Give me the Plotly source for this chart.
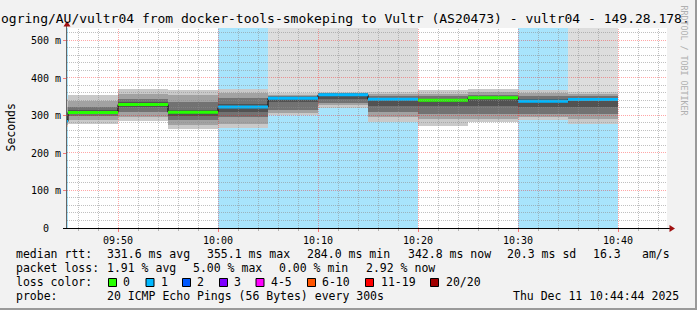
import math
import pandas as pd
import plotly.graph_objects as go

# ---------------- data ----------------
DAY = "2025-12-11 "
interval_start = ["09:40", "09:45", "09:50", "09:55", "10:00", "10:05",
                  "10:10", "10:15", "10:20", "10:25", "10:30", "10:35"]
median_ms = [284.0, 308.0, 329.0, 308.5, 322.6, 345.7, 355.1, 343.0, 340.4, 347.6, 337.8, 342.8]
lost_pings = [1, 0, 0, 0, 1, 1, 1, 1, 0, 0, 1, 1]
smoke_min = [270, 277, 285, 265, 266, 302, 321, 283, 271, 283, 287, 278]
smoke_p10 = [275, 287, 296, 274, 277, 307, 327, 295, 290, 292, 297, 290]
smoke_p25 = [279, 298, 309, 287, 295, 316, 333, 310, 305, 305, 305, 303]
smoke_p40 = [282, 304, 322, 300, 310, 335, 345, 325, 325, 325, 322, 322]
smoke_p60 = [290, 314, 335, 316, 332, 349, 357, 347, 345, 350, 344, 347]
smoke_p75 = [300, 324, 345, 335, 346, 353, 359, 352, 352, 355, 352, 353]
smoke_p90 = [320, 340, 358, 355, 359, 356, 361, 357, 358, 362, 360, 358]
smoke_max = [345, 354, 370, 368, 370, 360, 364, 362, 367, 370, 367, 364]
offscale_top = [0, 0, 0, 0, 0, 1, 1, 1, 0, 0, 0, 1]

y_tick_vals = [0, 100, 200, 300, 400, 500]
y_tick_text = ["0\u00a0\u00a0", "100 m", "200 m", "300 m", "400 m", "500 m"]

loss_legend = ["0", "1", "2", "3", "4-5", "6-10", "11-19", "20/20"]
loss_colors = ["#26ff00", "#00b8ff", "#0059ff", "#7e00ff", "#ff00fe", "#ff5500", "#ff0000", "#a10000"]

legend_rows = [
    [("median rtt:", 16), ("331.6 ms avg", 107.3), ("355.1 ms max", 207.3),
     ("284.0 ms min", 307.2), ("342.8 ms now", 407.7), ("20.3 ms sd", 506.7),
     ("16.3", 593.3), ("am/s", 642.3)],
    [("packet loss:", 16), ("1.91 % avg", 107.3), ("5.00 % max", 193.0),
     ("0.00 % min", 279.0), ("2.92 % now", 365.7)],
    [("loss color:", 16)],
    [("probe:", 16), ("20 ICMP Echo Pings (56 Bytes) every 300s", 107.3),
     ("Thu Dec 11 10:44:44 2025", 513.3)],
]
legend_row_y = [254.3, 268.3, 282.3, 296.0]
loss_box_x = [108.5, 146.0, 182.5, 219.5, 256.0, 307.5, 365.5, 430.5]
loss_label_x = [123.3, 160.7, 197.3, 234.0, 270.7, 322.0, 380.7, 445.7]

title_text = ("ogring/AU/vultr04 from docker-tools-smokeping to Vultr (AS20473) "
              "- vultr04 - 149.28.178.")

# ---------------- layout constants ----------------
W, H = 697, 310
L, R, T, B = 67, 30, 28, 82
PW, PH = W - L - R, H - T - B
Y_TOP = 533.3333
X0 = pd.Timestamp(DAY + "09:44:54")
X1 = pd.Timestamp(DAY + "10:44:54")
FONT = "DejaVu Sans Mono"
BLUE_BG = "rgb(168,228,252)"
GREY_TOP = "#dddddd"

starts = pd.to_datetime([DAY + s for s in interval_start])
ends = starts + pd.Timedelta(minutes=5)
centers = starts + pd.Timedelta(seconds=150)
WIDTH_MS = 300000


def px(x):
    return (x - L) / PW


def py(y):
    return (T + PH - y) / PH


fig = go.Figure()


def add_band(lo, hi, color):
    fig.add_trace(go.Bar(
        x=centers, base=lo,
        y=[h - l if (h is not None and l is not None) else None for l, h in zip(lo, hi)],
        width=[WIDTH_MS] * len(centers), marker=dict(color=color, line=dict(width=0)),
        hoverinfo="skip", showlegend=False))


# loss background
add_band([0 if l > 0 else None for l in lost_pings],
         [Y_TOP if l > 0 else None for l in lost_pings], BLUE_BG)
# off-scale (grey) top
add_band([m if f else None for m, f in zip(smoke_max, offscale_top)],
         [Y_TOP if f else None for f in offscale_top], GREY_TOP)
# smoke
add_band(smoke_min, smoke_max, "#c9c9c9")
add_band(smoke_p10, smoke_p90, "#a2a2a2")
add_band(smoke_p25, smoke_p75, "#727272")
add_band(smoke_p40, smoke_p60, "#525252")

# black median step line
fig.add_trace(go.Scatter(
    x=list(starts) + [ends[-1]], y=median_ms + [median_ms[-1]],
    mode="lines", line=dict(color="black", width=1, shape="hv"),
    hoverinfo="skip", showlegend=False))

# coloured median segments
for k in sorted(set(lost_pings)):
    xs, ys = [], []
    for s, e, m, l in zip(starts, ends, median_ms, lost_pings):
        if l == k:
            xs += [s, e, None]
            ys += [m, m, None]
    fig.add_trace(go.Scatter(x=xs, y=ys, mode="lines",
                             line=dict(color=loss_colors[k], width=3),
                             hoverinfo="skip", showlegend=False))

shapes = []
# grid (drawn above data, as in rrdtool)
t = pd.Timestamp(DAY + "09:46")
while t < X1:
    major = (t.minute % 10 == 0)
    tt = t + pd.Timedelta(seconds=3)  # half-pixel snap
    shapes.append(dict(type="line", xref="x", yref="paper", x0=tt, x1=tt, y0=0, y1=1,
                       layer="above",
                       line=dict(color="rgba(255,0,0,0.35)" if major else "rgba(140,140,140,0.55)",
                                 width=1, dash="1px,1px")))
    t += pd.Timedelta(minutes=2)
for v in range(20, 530, 20):
    p = T + PH - v * PH / Y_TOP
    p2 = math.floor(p) + 0.5
    v2 = (T + PH - p2) * Y_TOP / PH
    major = (v % 100 == 0)
    shapes.append(dict(type="line", xref="paper", yref="y", x0=0, x1=1, y0=v2, y1=v2,
                       layer="above",
                       line=dict(color="rgba(255,0,0,0.35)" if major else "rgba(140,140,140,0.55)",
                                 width=1, dash="1px,1px")))

# axes lines + arrows
shapes.append(dict(type="line", xref="paper", yref="paper", x0=px(66.5), x1=px(66.5),
                   y0=py(228), y1=py(24), line=dict(color="#666666", width=1), layer="above"))
shapes.append(dict(type="line", xref="paper", yref="paper", x0=px(63), x1=px(670),
                   y0=py(228.5), y1=py(228.5), line=dict(color="black", width=1), layer="above"))
shapes.append(dict(type="path", xref="paper", yref="paper",
                   path=f"M {px(63.5)} {py(26.5)} L {px(70.5)} {py(26.5)} L {px(67)} {py(21)} Z",
                   fillcolor="#a01010", line=dict(width=0), layer="above"))
shapes.append(dict(type="path", xref="paper", yref="paper",
                   path=f"M {px(669.5)} {py(225)} L {px(669.5)} {py(232)} L {px(675)} {py(228.5)} Z",
                   fillcolor="#a01010", line=dict(width=0), layer="above"))
# frame shading
shapes.append(dict(type="line", xref="paper", yref="paper", x0=px(0), x1=px(697),
                   y0=py(309), y1=py(309), line=dict(color="#9a9a9a", width=2)))
shapes.append(dict(type="line", xref="paper", yref="paper", x0=px(696), x1=px(696),
                   y0=py(0), y1=py(310), line=dict(color="#9a9a9a", width=2)))

# loss colour boxes
for bx, col in zip(loss_box_x, loss_colors):
    shapes.append(dict(type="rect", xref="paper", yref="paper",
                       x0=px(bx), x1=px(bx + 8), y0=py(286.5), y1=py(278.5),
                       fillcolor=col, line=dict(color="black", width=1)))

annotations = []
for row, yy in zip(legend_rows, legend_row_y):
    for txt, xx in row:
        annotations.append(dict(text=txt, x=px(xx), y=py(yy), xref="paper", yref="paper",
                                xanchor="left", yanchor="middle", showarrow=False,
                                borderpad=0, borderwidth=0,
                                font=dict(family=FONT, size=11.5, color="black")))
for txt, xx in zip(loss_legend, loss_label_x):
    annotations.append(dict(text=txt, x=px(xx), y=py(legend_row_y[2]), xref="paper", yref="paper",
                            xanchor="left", yanchor="middle", showarrow=False,
                            borderpad=0, borderwidth=0,
                            font=dict(family=FONT, size=11.5, color="black")))
# title
annotations.append(dict(text=title_text, x=px(0), y=py(18.5), xref="paper", yref="paper",
                        xanchor="left", yanchor="middle", showarrow=False, borderpad=0,
                        font=dict(family=FONT, size=13, color="black")))
# y axis title
annotations.append(dict(text="Seconds", x=px(10), y=py(127.5), xref="paper", yref="paper",
                        xanchor="center", yanchor="middle", showarrow=False, textangle=-90,
                        font=dict(family=FONT, size=11.5, color="black")))
# watermark
annotations.append(dict(text="RRDTOOL / TOBI OETIKER", x=px(683.5), y=py(60), xref="paper",
                        yref="paper", xanchor="center", yanchor="middle", showarrow=False,
                        textangle=90, font=dict(family=FONT, size=8.3, color="#b0b0b0")))

fig.update_layout(
    width=W, height=H, autosize=False,
    margin=dict(l=L, r=R, t=T, b=B, pad=0),
    paper_bgcolor="#f2f2f2", plot_bgcolor="white",
    barmode="overlay", bargap=0, showlegend=False,
    shapes=shapes, annotations=annotations,
    xaxis=dict(type="date", range=[X0, X1], showgrid=False, zeroline=False, showline=False,
               tickformat="%H:%M", dtick=600000, tick0=DAY + "09:50",
               ticks="outside", ticklen=3, tickcolor="rgba(255,0,0,0.5)", tickwidth=1,
               minor=dict(dtick=120000, ticks="outside", ticklen=2, tickcolor="rgba(140,140,140,0.6)",
                          showgrid=False),
               tickfont=dict(family=FONT, size=10, color="black"), fixedrange=True),
    yaxis=dict(range=[0, Y_TOP], showgrid=False, zeroline=False, showline=False,
               tickvals=y_tick_vals, ticktext=y_tick_text,
               ticks="outside", ticklen=3, tickcolor="rgba(255,0,0,0.5)", tickwidth=1,
               tickfont=dict(family=FONT, size=10, color="black"), fixedrange=True),
)

fig.write_html("out.html")
